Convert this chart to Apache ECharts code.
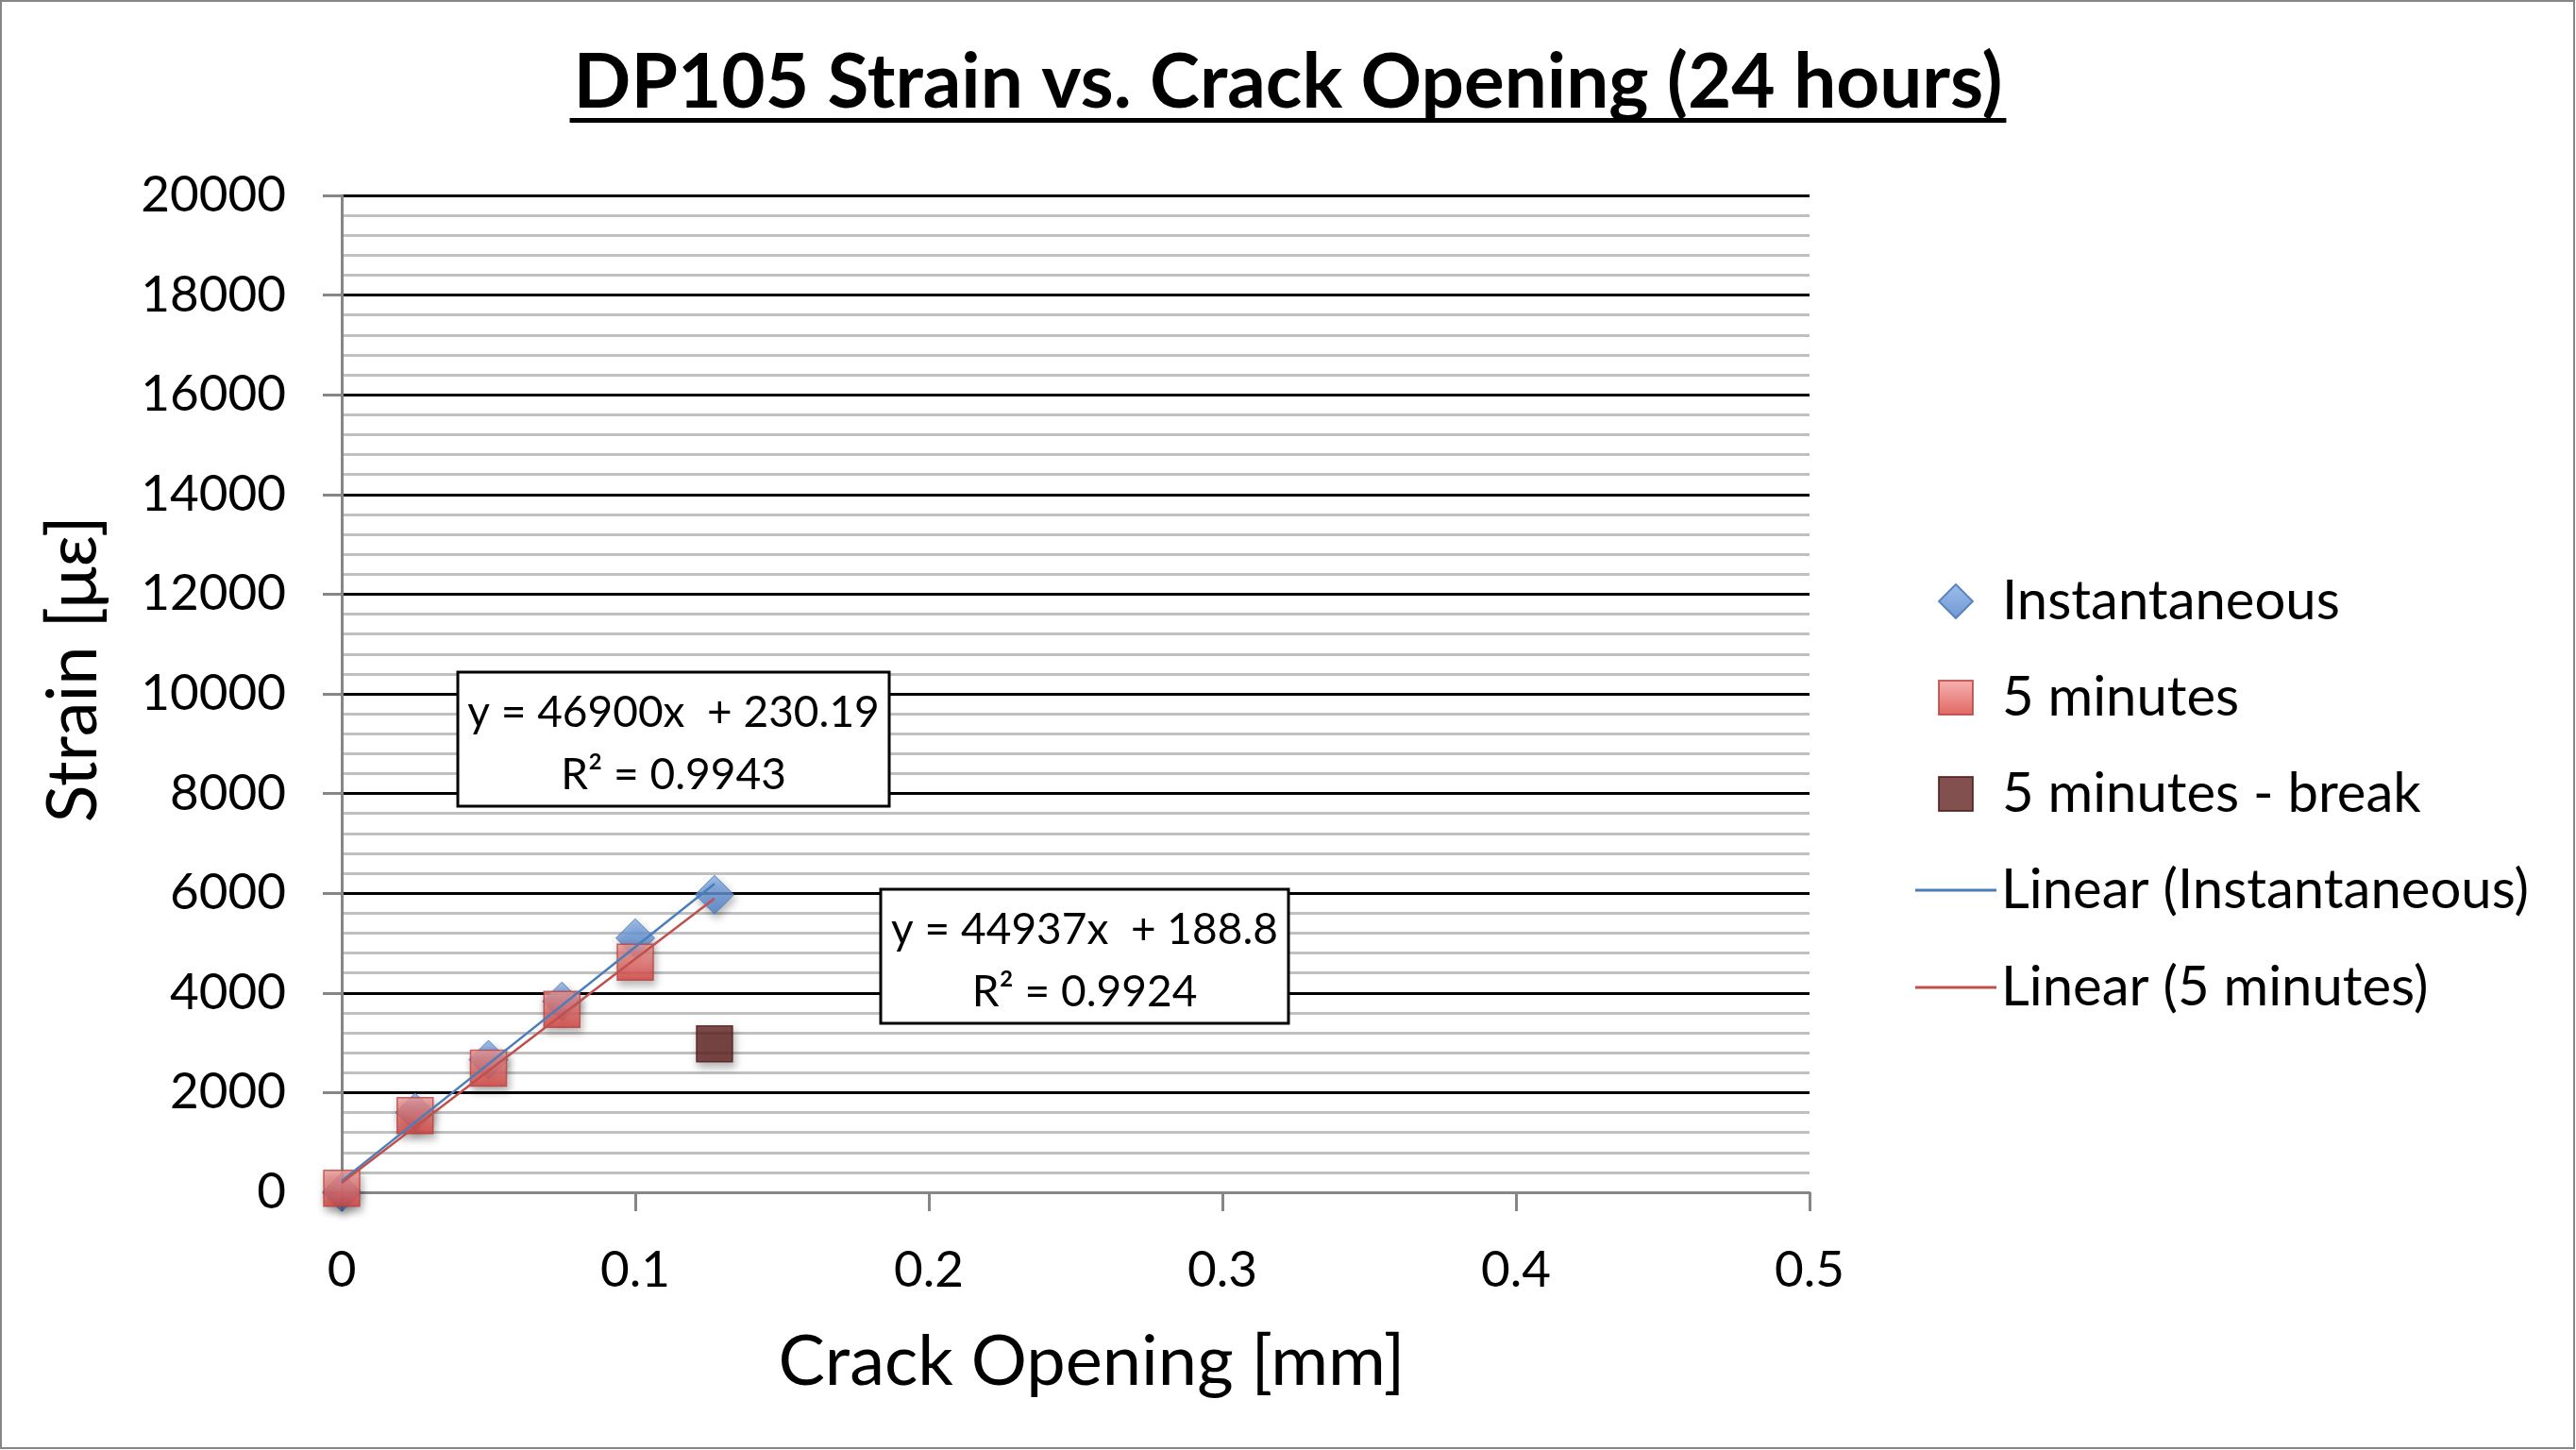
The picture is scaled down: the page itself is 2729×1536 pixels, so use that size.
<!DOCTYPE html>
<html>
<head>
<meta charset="utf-8">
<title>DP105 Strain vs. Crack Opening</title>
<script src="https://cdn.jsdelivr.net/npm/echarts@6/dist/echarts.min.js"></script>
<style>
  html, body { margin: 0; padding: 0; background: #fff; }
  #chart { width: 2729px; height: 1536px; }
</style>
</head>
<body>
<div id="chart"></div>
<script>
// values
const instX = [0, 0.025, 0.05, 0.075, 0.1, 0.127];
const instY = [0, 1600, 2660, 3830, 5100, 5970];
const min5X = [0, 0.025, 0.05, 0.075, 0.1];
const min5Y = [80, 1540, 2490, 3670, 4615];
const breakX = [0.127];
const breakY = [2980];
// trendline end points (Excel linear fits)
const trendInstX = [0, 0.127];
const trendInstY = [230, 6190];
const trendMin5X = [0, 0.127];
const trendMin5Y = [189, 5895];
const seriesNames = ["Instantaneous", "5 minutes", "5 minutes - break", "Linear (Instantaneous)", "Linear (5 minutes)"];
const eqInst = ["y = 46900x  + 230.19", "R² = 0.9943"];
const eqMin5 = ["y = 44937x  + 188.8", "R² = 0.9924"];
const titleText = "DP105 Strain vs. Crack Opening (24 hours)";

function pairs(xs, ys) {
  return xs.map(function (x, i) { return [x, ys[i]]; });
}

const FONT = "Lato";
const TITLE_SIZE = 80;
const chart = echarts.init(document.getElementById("chart"));

// width of the title, for the underline
const ctx = document.createElement("canvas").getContext("2d");
ctx.font = "bold " + TITLE_SIZE + "px " + FONT;
const titleW = ctx.measureText(titleText).width;

const markerShadow = {
  shadowBlur: 8,
  shadowOffsetX: 2,
  shadowOffsetY: 5,
  shadowColor: "rgba(0, 0, 0, 0.35)"
};

function eqBox(x, y, w, h, lines) {
  return {
    type: "group",
    x: x,
    y: y,
    z: 50,
    children: [
      { type: "rect", z: 50, shape: { x: 0, y: 0, width: w, height: h },
        style: { fill: "#fff", stroke: "#000", lineWidth: 3 } },
      { type: "text", z: 51, x: w / 2, y: h / 2 + 5,
        style: { text: lines.join("\n"), font: "46px " + FONT, fill: "#000",
                 align: "center", verticalAlign: "middle", lineHeight: 66 } }
    ]
  };
}

const option = {
  backgroundColor: "#fff",
  animation: false,
  textStyle: { fontFamily: FONT, color: "#000" },
  title: {
    text: titleText,
    left: "center",
    top: 38,
    textStyle: { fontFamily: FONT, fontSize: TITLE_SIZE, fontWeight: "bold", color: "#000", lineHeight: 90 }
  },
  grid: { left: 362, right: 812, top: 207, bottom: 273 },
  legend: [
    {
      data: seriesNames.slice(0, 3),
      orient: "vertical",
      left: 2048,
      top: 602,
      itemWidth: 36,
      itemHeight: 36,
      itemGap: 42,
      textStyle: { fontFamily: FONT, fontSize: 58, color: "#000", lineHeight: 60, padding: [0, 0, 0, 26] }
    },
    {
      data: [
        { name: seriesNames[3], icon: "rect" },
        { name: seriesNames[4], icon: "rect" }
      ],
      orient: "vertical",
      left: 2024,
      top: 908,
      itemWidth: 86,
      itemHeight: 3,
      itemGap: 43,
      textStyle: { fontFamily: FONT, fontSize: 58, color: "#000", lineHeight: 60 }
    }
  ],
  xAxis: {
    type: "value",
    min: 0,
    max: 0.5,
    interval: 0.1,
    name: "Crack Opening [mm]",
    nameLocation: "middle",
    nameGap: 143,
    nameTextStyle: { fontFamily: FONT, fontSize: 74, color: "#000", padding: [0, 0, 0, 34] },
    axisLine: { show: true, onZero: false, lineStyle: { color: "#868686", width: 3 } },
    axisTick: { show: true, inside: false, length: 20, lineStyle: { color: "#868686", width: 3 } },
    axisLabel: { margin: 56, fontFamily: FONT, fontSize: 53, color: "#000" },
    splitLine: { show: false }
  },
  yAxis: {
    type: "value",
    min: 0,
    max: 20000,
    interval: 2000,
    name: "Strain [με]",
    nameLocation: "middle",
    nameGap: 247,
    nameTextStyle: { fontFamily: FONT, fontSize: 74, color: "#000", padding: [0, 0, 0, 52] },
    axisLine: { show: true, lineStyle: { color: "#868686", width: 3 } },
    axisTick: { show: true, inside: false, length: 20, lineStyle: { color: "#868686", width: 3 } },
    axisLabel: { margin: 59, fontFamily: FONT, fontSize: 53, color: "#000",
                 formatter: function (v) { return String(v); } },
    splitLine: { show: true, lineStyle: { color: "#000", width: 3 } },
    minorTick: { show: false, splitNumber: 5 },
    minorSplitLine: { show: true, lineStyle: { color: "#c0c0c0", width: 3 } }
  },
  series: [
    {
      name: seriesNames[0],
      type: "scatter",
      symbol: "diamond",
      symbolSize: 41,
      z: 3,
      itemStyle: Object.assign({
        color: new echarts.graphic.LinearGradient(0, 0, 0, 1, [
          { offset: 0, color: "#86aee8" },
          { offset: 1, color: "#4a7ec7" }
        ]),
        borderColor: "#4572b5",
        borderWidth: 1
      }, markerShadow),
      data: pairs(instX, instY)
    },
    {
      name: seriesNames[1],
      type: "scatter",
      symbol: "rect",
      symbolSize: 38,
      z: 4,
      itemStyle: Object.assign({
        color: new echarts.graphic.LinearGradient(0, 0, 0, 1, [
          { offset: 0, color: "#f4a09e" },
          { offset: 1, color: "#d8413d" }
        ]),
        borderColor: "#b9413e",
        borderWidth: 1.5
      }, markerShadow),
      data: pairs(min5X, min5Y)
    },
    {
      name: seriesNames[2],
      type: "scatter",
      symbol: "rect",
      symbolSize: 38,
      z: 4,
      itemStyle: Object.assign({
        color: "#632523",
        borderColor: "#4d1b19",
        borderWidth: 1.5
      }, markerShadow),
      data: pairs(breakX, breakY)
    },
    {
      name: seriesNames[3],
      type: "line",
      symbol: "none",
      z: 5,
      lineStyle: { color: "#4a7ebb", width: 2.5 },
      itemStyle: { color: "#4a7ebb" },
      data: pairs(trendInstX, trendInstY)
    },
    {
      name: seriesNames[4],
      type: "line",
      symbol: "none",
      z: 5,
      lineStyle: { color: "#c0504d", width: 2.5 },
      itemStyle: { color: "#c0504d" },
      data: pairs(trendMin5X, trendMin5Y)
    }
  ],
  graphic: [
    { type: "rect", shape: { x: 1, y: 1, width: 2726, height: 1533 },
      style: { fill: null, stroke: "#868686", lineWidth: 2 }, z: 100 },
    { type: "rect", shape: { x: 2729 / 2 - titleW / 2 - 4, y: 125, width: titleW + 8, height: 5 },
      style: { fill: "#000" } },
    eqBox(485, 712, 457, 142, eqInst),
    eqBox(933, 942, 432, 142, eqMin5)
  ]
};

chart.setOption(option);
</script>
</body>
</html>
